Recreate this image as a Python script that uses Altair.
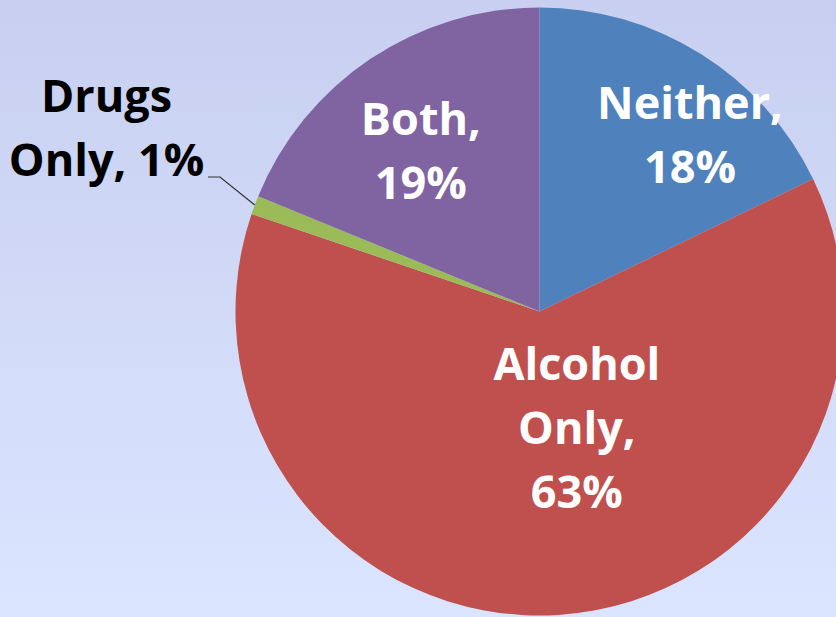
import math
import altair as alt
import pandas as pd

# ---- data ----
categories = ["Neither", "Alcohol Only", "Drugs Only", "Both"]
percents = [18, 63, 1, 19]
labels = ["Neither,\n18%", "Alcohol\nOnly,\n63%", "Drugs\nOnly, 1%", "Both,\n19%"]
colors = ["#4F81BD", "#C0504D", "#9BBB59", "#8064A2"]
label_colors = ["white", "white", "black", "white"]

# ---- layout ----
W, H = 836, 617
CX, CY, R = 539.5, 311.5, 304
FONT = "Open Sans"
FS = 45
LH = 64
# per-label polar radius and nudges (layout only)
label_layout = {
    "Neither": dict(radius=242, dx=22, dy=13),
    "Alcohol Only": dict(radius=70, dx=33, dy=-1),
    "Drugs Only": dict(radius=475, dx=12, dy=-33),
    "Both": dict(radius=213, dx=0, dy=0),
}

df = pd.DataFrame({
    "category": categories,
    "value": percents,
    "label": labels,
    "order": list(range(len(categories))),
    "tcolor": label_colors,
})

bg = alt.Chart(alt.Data(values=[{}])).mark_rect(
    fill=alt.Gradient(
        gradient="linear",
        stops=[alt.GradientStop(offset=0, color="#C8CFF0"),
               alt.GradientStop(offset=1, color="#DBE5FF")],
        x1=0, x2=0, y1=0, y2=1,
    )
).encode(x=alt.value(0), x2=alt.value(W), y=alt.value(0), y2=alt.value(H))

pie = alt.Chart(df).mark_arc(radius=R).encode(
    theta=alt.Theta("value:Q", stack=True),
    order=alt.Order("order:Q"),
    color=alt.Color("category:N", scale=alt.Scale(domain=categories, range=colors), legend=None),
    x=alt.value(CX),
    y=alt.value(CY),
)

base = (
    alt.Chart(df)
    .transform_joinaggregate(total="sum(value)")
    .transform_window(cum="sum(value)", sort=[alt.SortField("order", order="ascending")], frame=[None, 0])
    .transform_calculate(mid="(datum.cum - datum.value / 2) / datum.total * 2 * PI")
)

text_layers = []
for cat, tc in zip(categories, label_colors):
    lay = label_layout[cat]
    text_layers.append(
        base.transform_filter(alt.datum.category == cat)
        .mark_text(
            radius=lay["radius"], dx=lay["dx"], dy=lay["dy"],
            font=FONT, fontSize=FS, fontWeight="bold", lineHeight=LH,
            lineBreak="\n", align="center", baseline="alphabetic", color=tc,
        )
        .encode(
            theta=alt.Theta("mid:Q", scale=None),
            text="label:N",
            x=alt.value(CX),
            y=alt.value(CY),
        )
    )

# leader line for the small slice, starting at the slice's mid-angle on the rim
total = sum(percents)
i_small = categories.index("Drugs Only")
mid_frac = (sum(percents[:i_small]) + percents[i_small] / 2) / total
a = 2 * math.pi * mid_frac
leader = pd.DataFrame({
    "px": [CX + R * math.sin(a), 220, 208],
    "py": [CY - R * math.cos(a), 177, 177],
    "k": [0, 1, 2],
})
leader_line = alt.Chart(leader).mark_line(color="#333333", strokeWidth=1.2).encode(
    x=alt.X("px:Q", scale=None),
    y=alt.Y("py:Q", scale=None),
    order="k:Q",
)

chart = alt.layer(bg, pie, leader_line, *text_layers).properties(
    width=W, height=H, padding=0, autosize=alt.AutoSizeParams(type="none"),
    background="#DBE5FF",
).configure_view(stroke=None)

chart.save("out.html", embed_options={"renderer": "svg", "actions": False,
                                      "defaultStyle": "body{margin:0;}"})
